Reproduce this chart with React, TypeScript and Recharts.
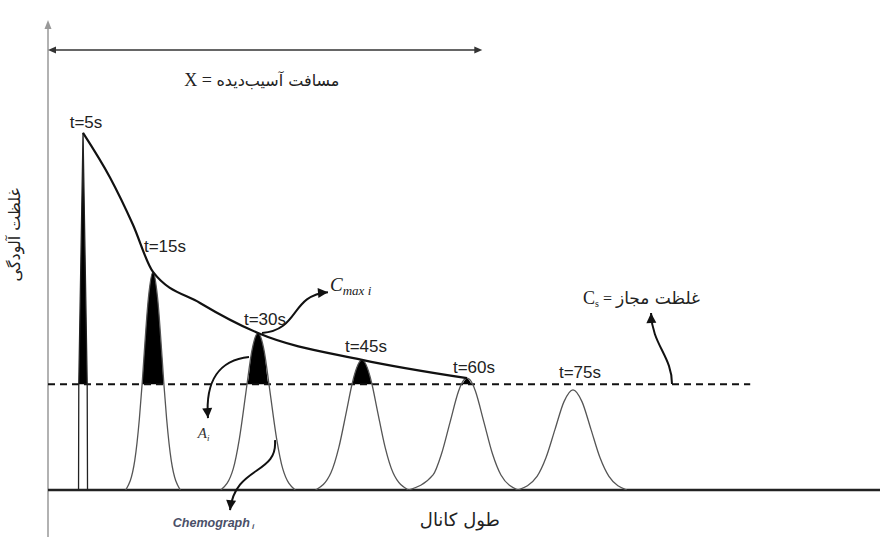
import { ComposedChart, Line, Area, XAxis, YAxis, ReferenceLine, ReferenceDot } from 'recharts';

// channel length (x) and pollutant concentration (y)
const THRESHOLD = 22.5;
const TIME_LABELS = ['t=5s', 't=15s', 't=30s', 't=45s', 't=60s', 't=75s'];

const chemo5 = [[3.67, 0], [3.7, 22.5], [4.21, 76.0], [4.71, 22.5], [4.75, 0]];
const chemo15 = [
  [9.34, 0], [10.43, 6.3], [10.98, 15.1], [11.31, 22.5], [11.53, 28.2], [12.07, 40.9], [12.62, 46.4],
  [13.17, 40.9], [13.71, 28.2], [13.93, 22.5], [14.26, 15.1], [14.81, 6.3], [15.9, 0],
];
const chemo30 = [
  [20.77, 0], [22.26, 4.5], [23.0, 10.9], [23.75, 20.3], [23.92, 22.5], [24.49, 29.5], [25.24, 33.4],
  [25.99, 29.5], [26.56, 22.5], [26.73, 20.3], [27.48, 10.9], [28.22, 4.5], [29.71, 0],
];
const chemo45 = [
  [32.16, 0], [34.02, 3.7], [34.95, 9.0], [35.88, 16.8], [36.54, 22.5], [36.81, 24.4], [37.74, 27.7],
  [38.67, 24.4], [38.94, 22.5], [39.6, 16.8], [40.53, 9.0], [41.46, 3.7], [43.32, 0],
];
const chemo60 = [
  [43.32, 0], [46.28, 3.2], [47.3, 7.7], [48.32, 14.4], [49.34, 21.0], [49.67, 22.5], [50.36, 23.8],
  [51.05, 22.5], [51.38, 21.0], [52.4, 14.4], [53.42, 7.7], [54.44, 3.2], [56.48, 0],
];
const chemo75 = [
  [56.48, 0], [58.78, 2.9], [59.86, 6.9], [60.94, 12.9], [62.02, 18.8], [63.1, 21.3],
  [64.18, 18.8], [65.26, 12.9], [66.34, 6.9], [67.42, 2.9], [69.58, 0],
];
// envelope of the peak concentrations (C max)
const envelope = [
  [4.21, 76.0], [7.45, 66.5], [10.2, 56.5], [12.62, 46.4], [18.27, 39.8], [25.24, 33.4], [37.74, 27.7], [50.36, 23.8],
];

const pts = (a: number[][]) => a.map(([x, y]) => ({ x, y }));
const CHEMOGRAPHS = [chemo5, chemo15, chemo30, chemo45, chemo60, chemo75].map(pts);

// pixel nudges of the time labels relative to each peak
const LABEL_NUDGE = [[3, -5], [12, -20], [7, -8], [4, -8], [7, -5], [7, -12]];

const PERSIAN = "'DejaVu Sans', sans-serif";
const SERIF = "'Liberation Serif', 'DejaVu Serif', serif";
const SANS = "'Liberation Sans', Arial, sans-serif";

function head(x: number, y: number, fx: number, fy: number, len = 9, w = 4.5, color = '#111') {
  const a = Math.atan2(y - fy, x - fx);
  const bx = x - len * Math.cos(a);
  const by = y - len * Math.sin(a);
  const px = -Math.sin(a) * w;
  const py = Math.cos(a) * w;
  return <polygon points={`${x},${y} ${bx + px},${by + py} ${bx - px},${by - py}`} fill={color} />;
}

// curved annotation arrow between two data points; c1/c2 are pixel offsets of the bezier handles
function curvedArrow(key: string, from: [number, number], to: [number, number], c1: [number, number], c2: [number, number]) {
  return (
    <ReferenceLine
      key={key}
      ifOverflow="visible"
      segment={[{ x: from[0], y: from[1] }, { x: to[0], y: to[1] }]}
      shape={(p: any) => {
        const ax = p.x1 + c1[0];
        const ay = p.y1 + c1[1];
        const bx = p.x2 + c2[0];
        const by = p.y2 + c2[1];
        return (
          <g>
            <path d={`M${p.x1},${p.y1} C${ax},${ay} ${bx},${by} ${p.x2},${p.y2}`} fill="none" stroke="#111" strokeWidth={2} />
            {head(p.x2, p.y2, bx, by, 10, 5)}
          </g>
        );
      }}
    />
  );
}

function note(key: string, x: number, y: number, render: (cx: number, cy: number) => any) {
  return (
    <ReferenceDot key={key} x={x} y={y} r={0} ifOverflow="visible" shape={(p: any) => render(p.cx, p.cy)} />
  );
}

export default function App() {
  return (
    <div style={{ position: 'absolute', left: 0, top: 0, width: 880, height: 537, background: '#fff' }}>
      <ComposedChart width={880} height={537} margin={{ top: 20, right: 0, bottom: 47, left: 48 }}>
        <XAxis type="number" dataKey="x" domain={[0, 100]} hide allowDataOverflow />
        <YAxis type="number" dataKey="y" domain={[0, 100]} hide allowDataOverflow />

        {/* axes */}
        <ReferenceLine
          ifOverflow="visible"
          segment={[{ x: 0, y: -10 }, { x: 0, y: 100 }]}
          shape={(p: any) => (
            <g>
              <line x1={p.x1} y1={p.y1} x2={p.x2} y2={p.y2 + 4} stroke="#999" strokeWidth={1.5} />
              {head(p.x2, p.y2, p.x1, p.y1, 9, 3.5, '#999')}
            </g>
          )}
        />
        <ReferenceLine ifOverflow="visible" segment={[{ x: 0, y: 0 }, { x: 100, y: 0 }]} stroke="#222" strokeWidth={2.5} />

        {/* affected distance */}
        <ReferenceLine
          ifOverflow="visible"
          segment={[{ x: 0, y: 93.6 }, { x: 52.2, y: 93.6 }]}
          shape={(p: any) => (
            <g>
              <line x1={p.x1 + 4} y1={p.y1} x2={p.x2 - 4} y2={p.y2} stroke="#333" strokeWidth={1.5} />
              {head(p.x1, p.y1, p.x2, p.y2, 8, 3.5, '#333')}
              {head(p.x2, p.y2, p.x1, p.y1, 8, 3.5, '#333')}
            </g>
          )}
        />

        {/* permissible concentration */}
        <ReferenceLine
          ifOverflow="visible"
          segment={[{ x: 0, y: THRESHOLD }, { x: 84.4, y: THRESHOLD }]}
          stroke="#111"
          strokeWidth={2}
          strokeDasharray="7 5"
        />

        {CHEMOGRAPHS.map((c, i) => (
          <Area
            key={`a${i}`}
            data={c}
            dataKey={(d: any) => [THRESHOLD, Math.max(d.y, THRESHOLD)]}
            type={i === 0 ? 'linear' : 'monotone'}
            fill="#000"
            fillOpacity={1}
            stroke="none"
            isAnimationActive={false}
          />
        ))}
        {CHEMOGRAPHS.map((c, i) => (
          <Line
            key={`l${i}`}
            data={c}
            dataKey="y"
            type={i === 0 ? 'linear' : 'monotone'}
            stroke={i === 0 ? '#222' : '#555'}
            strokeWidth={1.3}
            dot={false}
            activeDot={false}
            isAnimationActive={false}
          />
        ))}
        <Line
          data={pts(envelope)}
          dataKey="y"
          type="monotone"
          stroke="#111"
          strokeWidth={2.2}
          dot={false}
          activeDot={false}
          isAnimationActive={false}
        />

        {CHEMOGRAPHS.map((c, i) => {
          const peak = c.reduce((m, d) => (d.y > m.y ? d : m), c[0]);
          const [dx, dy] = LABEL_NUDGE[i];
          return note(`t${i}`, peak.x, peak.y, (cx, cy) => (
            <text x={cx + dx} y={cy + dy} textAnchor="middle" fontFamily={SANS} fontSize={17} fill="#222">
              {TIME_LABELS[i]}
            </text>
          ));
        })}

        {curvedArrow('cmax', [25.72, 33.4], [33.65, 42.1], [38, -3], [-38, 3])}
        {curvedArrow('ai', [24.16, 28.3], [19.23, 15.3], [-29, 3], [-3, -38])}
        {curvedArrow('chemo', [27.28, 10.6], [21.88, -4.3], [3, 35], [5, -45])}
        {curvedArrow('cs', [75.0, 22.55], [72.48, 37.66], [0, -28], [1, 32])}

        {note('xlen', 25.7, 86.0, (cx, cy) => (
          <text x={cx} y={cy} textAnchor="middle" fontSize={16} fill="#222">
            <tspan fontFamily={SERIF} fontSize={18}>X = </tspan>
            <tspan fontFamily={PERSIAN}>مسافت آسیب‌دیده</tspan>
          </text>
        ))}
        {note('ylab', -3.97, 54.3, (cx, cy) => (
          <text x={cx} y={cy} textAnchor="middle" dominantBaseline="central" transform={`rotate(-90, ${cx}, ${cy})`} fontFamily={PERSIAN} fontSize={16} fill="#222">
            غلظت آلودگی
          </text>
        ))}
        {note('xlab', 49.5, -7.66, (cx, cy) => (
          <text x={cx} y={cy} textAnchor="middle" fontFamily={PERSIAN} fontSize={18} fill="#222">
            طول کانال
          </text>
        ))}
        {note('cmaxlab', 33.9, 42.3, (cx, cy) => (
          <text x={cx} y={cy} fontFamily={SERIF} fontStyle="italic" fill="#222">
            <tspan fontSize={19}>C</tspan>
            <tspan fontSize={13} dy={4}>max i</tspan>
          </text>
        ))}
        {note('ailab', 18.0, 11.1, (cx, cy) => (
          <text x={cx} y={cy} fontFamily={SERIF} fontStyle="italic" fill="#333">
            <tspan fontSize={15}>A</tspan>
            <tspan fontSize={9} dy={3}>i</tspan>
          </text>
        ))}
        {note('chemolab', 15.0, -7.9, (cx, cy) => (
          <text x={cx} y={cy} fontFamily={SANS} fontStyle="italic" fontWeight="bold" fill="#4a5068">
            <tspan fontSize={12.5}>Chemograph</tspan>
            <tspan fontSize={8} dy={2}> i</tspan>
          </text>
        ))}
        {note('cslab', 64.3, 39.6, (cx, cy) => (
          <text x={cx} y={cy} fill="#222">
            <tspan fontFamily={SERIF} fontSize={18}>C</tspan>
            <tspan fontFamily={SERIF} fontSize={10} dy={3}>s</tspan>
            <tspan fontFamily={SERIF} fontSize={16} dy={-3}> = </tspan>
            <tspan fontFamily={PERSIAN} fontSize={17}>غلظت مجاز</tspan>
          </text>
        ))}
      </ComposedChart>
    </div>
  );
}
